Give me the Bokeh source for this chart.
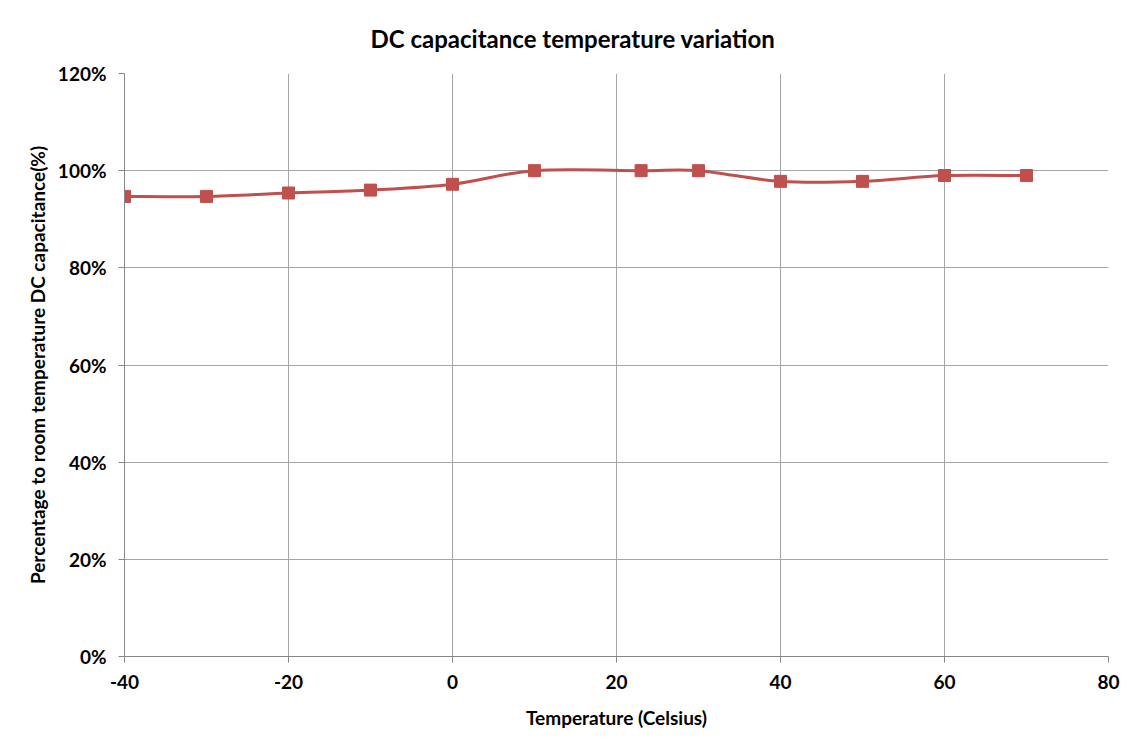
from bokeh.plotting import figure
from bokeh.models import Range1d, FixedTicker, PrintfTickFormatter
from bokeh.embed import file_html
from bokeh.resources import INLINE

temps = [-40, -30, -20, -10, 0, 10, 23, 30, 40, 50, 60, 70]
pct = [94.7, 94.7, 95.4, 96.0, 97.2, 100.0, 100.0, 100.0, 97.8, 97.8, 99.0, 99.0]
x_ticks = [-40, -20, 0, 20, 40, 60, 80]
y_ticks = [0, 20, 40, 60, 80, 100, 120]
title_text = "DC capacitance temperature variation"
x_label = "Temperature (Celsius)"
y_label = "Percentage to room temperature DC capacitance(%)"

FONT = "Lato"
RED = "#C0504D"
GRID = "#A6A6A6"

p = figure(width=1132, height=744, output_backend="svg", toolbar_location=None,
           x_range=Range1d(-40, 80), y_range=Range1d(0, 120),
           min_border_left=124, min_border_right=24, min_border_top=73, min_border_bottom=88)
p.outline_line_color = None
p.background_fill_color = "white"
p.border_fill_color = "white"

p.title.text = title_text
p.title.align = "left"
p.title.offset = 246
p.title.text_font = FONT
p.title.text_font_style = "bold"
p.title.text_font_size = "24px"
p.title.text_color = "black"
p.title.standoff = 41

for ax in (p.xaxis[0], p.yaxis[0]):
    ax.axis_line_color = "#868686"
    ax.major_tick_line_color = "#868686"
    ax.minor_tick_line_color = None
    ax.major_tick_in = 0
    ax.major_tick_out = 6
    ax.major_label_text_font = FONT
    ax.major_label_text_font_style = "bold"
    ax.major_label_text_font_size = "19px"
    ax.major_label_text_color = "black"
    ax.axis_label_text_font = FONT
    ax.axis_label_text_font_style = "bold"
    ax.axis_label_text_font_size = "19px"
    ax.axis_label_text_color = "black"

p.xaxis.ticker = FixedTicker(ticks=x_ticks)
p.yaxis.ticker = FixedTicker(ticks=y_ticks)
p.xaxis.formatter = PrintfTickFormatter(format="%d")
p.yaxis.formatter = PrintfTickFormatter(format="%d%%")
p.xaxis.axis_label = x_label
p.yaxis.axis_label = y_label
p.xaxis.major_label_standoff = 12
p.yaxis.major_label_standoff = 12
p.xaxis.axis_label_standoff = 14
p.yaxis.axis_label_standoff = 6

p.xgrid.ticker = FixedTicker(ticks=x_ticks)
p.ygrid.ticker = FixedTicker(ticks=y_ticks)
p.xgrid.grid_line_color = GRID
p.ygrid.grid_line_color = GRID

# smoothed line (Catmull-Rom style bezier through the data points)
n = len(temps)
x0, y0, x1, y1, cx0, cy0, cx1, cy1 = [], [], [], [], [], [], [], []
for i in range(n - 1):
    pm = max(i - 1, 0)
    pp = min(i + 2, n - 1)
    x0.append(temps[i]); y0.append(pct[i])
    x1.append(temps[i + 1]); y1.append(pct[i + 1])
    cx0.append(temps[i] + (temps[i + 1] - temps[pm]) / 6)
    cy0.append(pct[i] + (pct[i + 1] - pct[pm]) / 6)
    cx1.append(temps[i + 1] - (temps[pp] - temps[i]) / 6)
    cy1.append(pct[i + 1] - (pct[pp] - pct[i]) / 6)
p.bezier(x0=x0, y0=y0, x1=x1, y1=y1, cx0=cx0, cy0=cy0, cx1=cx1, cy1=cy1,
         line_color=RED, line_width=3)
p.scatter(temps, pct, marker="square", size=12, fill_color=RED, line_color=RED)

open("out.html", "w").write(file_html(p, INLINE))
